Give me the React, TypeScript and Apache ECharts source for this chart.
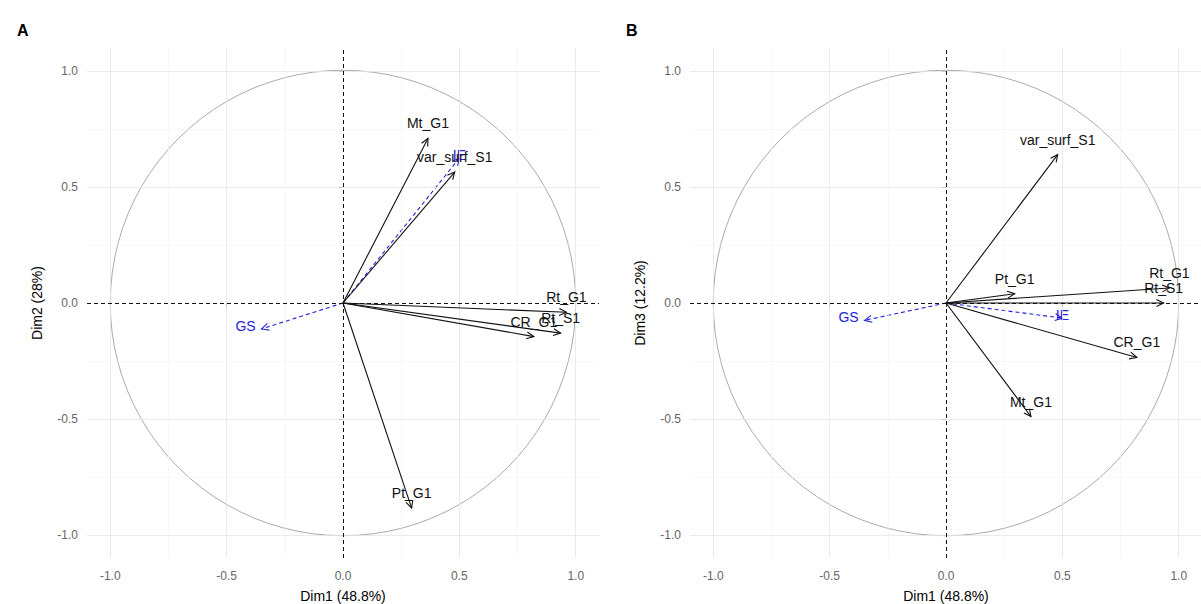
import React, { useEffect, useRef } from "react";
import * as echarts from "echarts";

// ---- data ----
const activeVars = ["Mt_G1", "var_surf_S1", "Rt_G1", "Rt_S1", "CR_G1", "Pt_G1"];
const activeDim1 = [0.365, 0.48, 0.96, 0.935, 0.82, 0.295];
const activeDim2 = [0.71, 0.565, -0.04, -0.13, -0.145, -0.885];
const activeDim3 = [-0.49, 0.64, 0.065, 0.0, -0.235, 0.04];

const suppVars = ["IE", "GS"];
const suppDim1 = [0.5, -0.35];
const suppDim2 = [0.625, -0.112];
const suppDim3 = [-0.065, -0.075];

const majorTicks = [-1, -0.5, 0, 0.5, 1];
const minorTicks = [-0.75, -0.25, 0.25, 0.75];

const xTitle = "Dim1 (48.8%)";
const yTitleA = "Dim2 (28%)";
const yTitleB = "Dim3 (12.2%)";

const FONT = '"Liberation Sans", Arial, Helvetica, sans-serif';
const BLACK = "#111111";
const BLUE = "#2323d8";

function arrowRenderer(names: string[], color: string, dashed: boolean, supp: boolean) {
  return (params: any, api: any) => {
    const x = api.value(0);
    const y = api.value(1);
    const o = api.coord([0, 0]);
    const t = api.coord([x, y]);
    const ang = Math.atan2(t[1] - o[1], t[0] - o[0]);
    const L = 8;
    const a = Math.PI / 7;
    const h1 = [t[0] - L * Math.cos(ang - a), t[1] - L * Math.sin(ang - a)];
    const h2 = [t[0] - L * Math.cos(ang + a), t[1] - L * Math.sin(ang + a)];
    const name = names[params.dataIndex];
    const lx = supp ? t[0] + (x < 0 ? -16 : 0) : t[0];
    const ly = supp ? t[1] - 3 : t[1] - 15;
    return {
      type: "group",
      children: [
        {
          type: "line",
          shape: { x1: o[0], y1: o[1], x2: t[0], y2: t[1] },
          style: { stroke: color, lineWidth: 1.1, lineDash: dashed ? [4, 3] : null },
        },
        {
          type: "polyline",
          shape: { points: [h1, t, h2] },
          style: { stroke: color, fill: "none", lineWidth: 1.1 },
        },
        {
          type: "text",
          x: lx,
          y: ly,
          style: {
            text: name,
            fill: color,
            fontSize: 14,
            fontFamily: FONT,
            align: "center",
            verticalAlign: "middle",
          },
        },
      ],
    };
  };
}

function circleRenderer(params: any, api: any) {
  const c = api.coord([0, 0]);
  const e = api.coord([1, 0]);
  return {
    type: "circle",
    shape: { cx: c[0], cy: c[1], r: e[0] - c[0] },
    style: { fill: "none", stroke: "#ababab", lineWidth: 1 },
  };
}

function makeAxis(gridIndex: number, isX: boolean, name: string) {
  return {
    type: "value",
    gridIndex,
    min: -1.1,
    max: 1.1,
    name,
    nameLocation: "middle",
    nameGap: isX ? 31 : 43,
    nameTextStyle: { color: "#000", fontSize: 14, fontFamily: FONT },
    axisLine: { show: false },
    axisTick: {
      show: true,
      customValues: majorTicks,
      length: 4,
      lineStyle: { color: "#444", width: 1 },
    },
    axisLabel: {
      customValues: majorTicks,
      formatter: (v: number) => v.toFixed(1),
      color: "#666666",
      fontSize: 12,
      fontFamily: FONT,
      margin: isX ? 12 : 9,
    },
    splitLine: { show: false },
  };
}

function panelSeries(idx: number, activeY: number[], suppY: number[]) {
  const minor = minorTicks.flatMap((v) => [{ xAxis: v }, { yAxis: v }]);
  const major = majorTicks.filter((v) => v !== 0).flatMap((v) => [{ xAxis: v }, { yAxis: v }]);
  const zero = [{ xAxis: 0 }, { yAxis: 0 }];
  const ml = (data: any[], color: string, type: any, width: number) => ({
    silent: true,
    symbol: ["none", "none"],
    label: { show: false },
    animation: false,
    lineStyle: { color, type, width },
    emphasis: { disabled: true },
    data,
  });
  return [
    {
      type: "custom",
      name: "minorGrid" + idx,
      xAxisIndex: idx,
      yAxisIndex: idx,
      data: [],
      renderItem: () => null,
      markLine: ml(minor, "#f3f3f3", "solid", 0.6),
      z: 1,
    },
    {
      type: "custom",
      name: "majorGrid" + idx,
      xAxisIndex: idx,
      yAxisIndex: idx,
      data: [],
      renderItem: () => null,
      markLine: ml(major, "#e6e6e6", "solid", 0.8),
      z: 1,
    },
    {
      type: "custom",
      name: "circle" + idx,
      xAxisIndex: idx,
      yAxisIndex: idx,
      data: [[0, 0]],
      renderItem: circleRenderer,
      silent: true,
      z: 2,
    },
    {
      type: "custom",
      name: "zero" + idx,
      xAxisIndex: idx,
      yAxisIndex: idx,
      data: [],
      renderItem: () => null,
      markLine: ml(zero, "#111", [4, 3], 1),
      z: 3,
    },
    {
      type: "custom",
      name: "supp" + idx,
      xAxisIndex: idx,
      yAxisIndex: idx,
      data: suppVars.map((_, i) => [suppDim1[i], suppY[i]]),
      encode: { x: 0, y: 1 },
      renderItem: arrowRenderer(suppVars, BLUE, true, true),
      silent: true,
      clip: false,
      z: 4,
    },
    {
      type: "custom",
      name: "active" + idx,
      xAxisIndex: idx,
      yAxisIndex: idx,
      data: activeVars.map((_, i) => [activeDim1[i], activeY[i]]),
      encode: { x: 0, y: 1 },
      renderItem: arrowRenderer(activeVars, BLACK, false, false),
      silent: true,
      clip: false,
      z: 5,
    },
  ];
}

export default function App() {
  const ref = useRef<HTMLDivElement>(null);
  useEffect(() => {
    if (!ref.current) return;
    const chart = echarts.init(ref.current, null, { renderer: "svg" });
    const gridH = 510;
    const gridW = 512;
    const option: any = {
      animation: false,
      backgroundColor: "#ffffff",
      grid: [
        { left: 87, top: 48, width: gridW, height: gridH, outerBoundsMode: "none", containLabel: false },
        { left: 690, top: 48, width: gridW, height: gridH, outerBoundsMode: "none", containLabel: false },
      ],
      xAxis: [makeAxis(0, true, xTitle), makeAxis(1, true, xTitle)],
      yAxis: [makeAxis(0, false, yTitleA), makeAxis(1, false, yTitleB)],
      graphic: [
        {
          type: "text",
          left: 17,
          top: 22,
          style: { text: "A", fontSize: 16, fontWeight: "bold", fontFamily: FONT, fill: "#000" },
        },
        {
          type: "text",
          left: 626,
          top: 22,
          style: { text: "B", fontSize: 16, fontWeight: "bold", fontFamily: FONT, fill: "#000" },
        },
      ],
      series: [...panelSeries(0, activeDim2, suppDim2), ...panelSeries(1, activeDim3, suppDim3)],
    };
    chart.setOption(option);
    return () => chart.dispose();
  }, []);
  return (
    <div
      ref={ref}
      style={{ position: "fixed", left: 0, top: 0, width: 1201, height: 604, background: "#fff" }}
    />
  );
}
